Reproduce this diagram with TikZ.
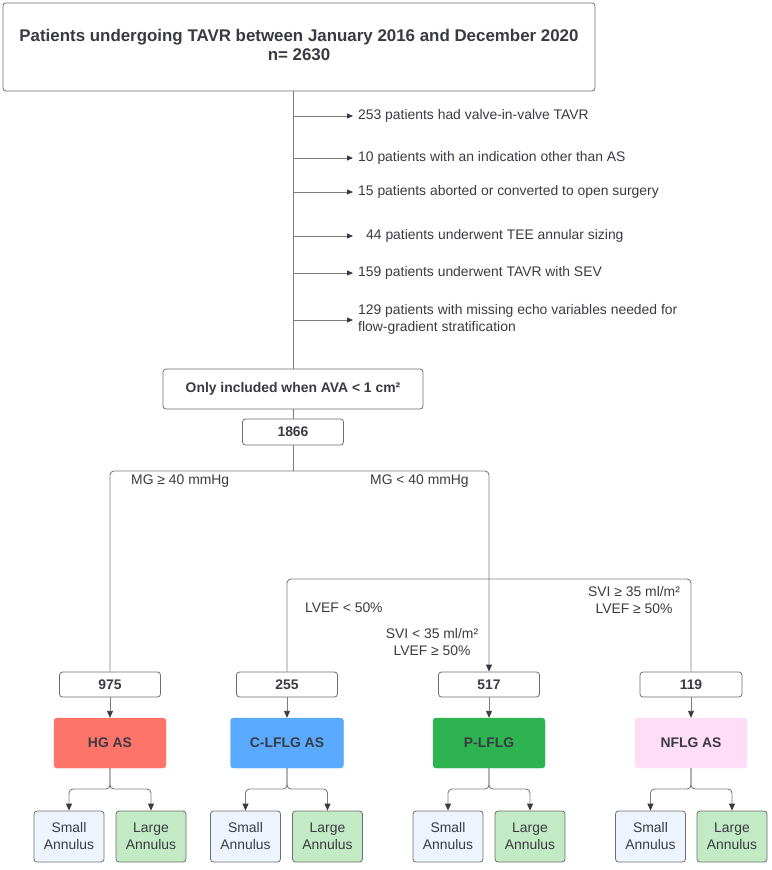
\documentclass[tikz,border=0pt]{standalone}
\usepackage{fontspec}
\setmainfont{Liberation Sans}
\usetikzlibrary{arrows.meta}
\definecolor{txt}{HTML}{3A3A44}
\definecolor{ln}{HTML}{7C7C7C}
\definecolor{bd}{HTML}{6E6E6E}
\definecolor{hgc}{HTML}{FF7468}
\definecolor{cc}{HTML}{5AAAFF}
\definecolor{pc}{HTML}{2DB350}
\definecolor{nc}{HTML}{FFDDF6}
\definecolor{smc}{HTML}{EEF4FD}
\definecolor{lgc}{HTML}{C2EAC5}
\begin{document}
\begin{tikzpicture}[x=1pt,y=-1pt,
  every node/.style={text=txt, inner sep=0pt},
  ft/.style={font=\fontsize{13.9}{17}\selectfont},
  fb/.style={font=\fontsize{13.9}{17}\selectfont\bfseries},
  wbox/.style={draw=bd, line width=0.8pt, rounded corners=3pt, fill=white, fb},
  numbox/.style={wbox, minimum width=101pt, minimum height=25pt},
  cat/.style={rounded corners=3pt, fb, minimum width=112pt, minimum height=50pt},
  ann/.style={draw=bd, line width=0.8pt, rounded corners=3pt, ft, align=center, minimum width=70pt, minimum height=51pt},
  conn/.style={draw=ln, line width=0.9pt},
  arr/.style={conn, -{Triangle[length=7pt,width=6pt,color=txt]}},
  sarr/.style={conn, -{Triangle[length=6pt,width=5pt,color=txt]}},
  excl/.style={ft, anchor=west, align=left, inner xsep=5pt},
  lab/.style={ft},
]
\useasboundingbox (0,0) rectangle (771,870);

% top box
\node[wbox, minimum width=592pt, minimum height=88pt, align=center,
      font=\fontsize{16.9}{20.5}\selectfont\bfseries] (top) at (299,47)
  {\raisebox{2pt}{\begin{tabular}{@{}c@{}}Patients undergoing TAVR between January 2016 and December 2020\\[-1.5pt]n= 2630\end{tabular}}};

% filter boxes
\node[wbox, minimum width=260pt, minimum height=40pt] (only) at (293,389) {Only included when AVA < 1 cm²};
\node[wbox, minimum width=101pt, minimum height=26pt] (n1866) at (293,432) {1866};

% exclusions
\node[excl] (x1) at (353,116) {253 patients had valve-in-valve TAVR};
\node[excl] (x2) at (353,158) {10 patients with an indication other than AS};
\node[excl] (x3) at (353,192) {15 patients aborted or converted to open surgery};
\node[excl, inner xsep=13pt] (x4) at (353,236) {44 patients underwent TEE annular sizing};
\node[excl] (x5) at (353,273) {159 patients underwent TAVR with SEV};
\node[excl] (x6) at (353,319) {129 patients with missing echo variables needed for\\flow-gradient stratification};
\coordinate (e1) at (293,116);
\coordinate (e2) at (293,158);
\coordinate (e3) at (293,192);
\coordinate (e4) at (293,236);
\coordinate (e5) at (293,273);
\coordinate (e6) at (293,320);

\draw[conn] (top.south -| only.north) -- (only.north);
\draw[sarr] (e1) -- (x1.west);
\draw[sarr] (e2) -- (x2.west);
\draw[sarr] (e3) -- (x3.west);
\draw[sarr] (e4) -- (x4.west);
\draw[sarr] (e5) -- (x5.west);
\draw[sarr] (e6) -- (x6.west |- e6);
\draw[conn] (only.south) -- (n1866.north);

% number boxes
\node[numbox] (n975) at (110,684.5) {975};
\node[numbox] (n255) at (287,684.5) {255};
\node[numbox] (n517) at (489,684.5) {517};
\node[numbox, minimum width=102pt] (n119) at (691,684.5) {119};

% category boxes
\node[cat, fill=hgc, draw=hgc] (hg) at (110,743) {HG AS};
\node[cat, fill=cc, draw=cc, minimum width=113pt] (cl) at (287,743) {C-LFLG AS};
\node[cat, fill=pc, draw=pc] (pl) at (489,743) {P-LFLG};
\node[cat, fill=nc, draw=nc] (nf) at (691,743) {NFLG AS};

% annulus boxes
\node[ann, fill=smc] (hgs) at (69,836.5) {Small\\Annulus};
\node[ann, fill=lgc] (hgl) at (151,836.5) {Large\\Annulus};
\node[ann, fill=smc] (cls) at (245.5,836.5) {Small\\Annulus};
\node[ann, fill=lgc] (cll) at (327.5,836.5) {Large\\Annulus};
\node[ann, fill=smc] (pls) at (448,836.5) {Small\\Annulus};
\node[ann, fill=lgc] (pll) at (530,836.5) {Large\\Annulus};
\node[ann, fill=smc] (nfs) at (650.5,836.5) {Small\\Annulus};
\node[ann, fill=lgc] (nfl) at (732,836.5) {Large\\Annulus};

% branching
\coordinate (j1) at (293,471);
\draw[conn] (n1866.south) -- (j1);
\draw[conn, rounded corners=4pt] (j1) -| (n975.north);
\draw[arr, rounded corners=4pt] (j1) -| (n517.north);
\coordinate (j2) at (489,579);
\draw[conn, rounded corners=4pt] (j2) -| (n255.north);
\draw[conn, rounded corners=4pt] (j2) -| (n119.north);

% labels
\node[lab, anchor=west] (mg1) at (131,481) {MG ≥ 40 mmHg};
\node[lab, anchor=west] (mg2) at (370,481) {MG < 40 mmHg};
\node[lab, anchor=west] (lv1) at (305,608) {LVEF < 50\%};
\node[lab, align=center] (sv1) at (432,642.5) {SVI < 35 ml/m²\\LVEF ≥ 50\%};
\node[lab, align=center] (sv2) at (634,600) {SVI ≥ 35 ml/m²\\LVEF ≥ 50\%};

% number -> category
\draw[arr] (n975.south) -- (hg.north);
\draw[arr] (n255.south) -- (cl.north);
\draw[arr] (n517.south) -- (pl.north);
\draw[arr] (n119.south) -- (nf.north);

% category -> annulus
\coordinate (hgj) at (110,789);
\coordinate (clj) at (287,789);
\coordinate (plj) at (489,789);
\coordinate (nfj) at (691,789);
\draw[arr, rounded corners=4pt] (hg.south) -- (hgj) -| (hgs.north);
\draw[arr, rounded corners=4pt] (hg.south) -- (hgj) -| (hgl.north);
\draw[arr, rounded corners=4pt] (cl.south) -- (clj) -| (cls.north);
\draw[arr, rounded corners=4pt] (cl.south) -- (clj) -| (cll.north);
\draw[arr, rounded corners=4pt] (pl.south) -- (plj) -| (pls.north);
\draw[arr, rounded corners=4pt] (pl.south) -- (plj) -| (pll.north);
\draw[arr, rounded corners=4pt] (nf.south) -- (nfj) -| (nfs.north);
\draw[arr, rounded corners=4pt] (nf.south) -- (nfj) -| (nfl.north);
\end{tikzpicture}
\end{document}
